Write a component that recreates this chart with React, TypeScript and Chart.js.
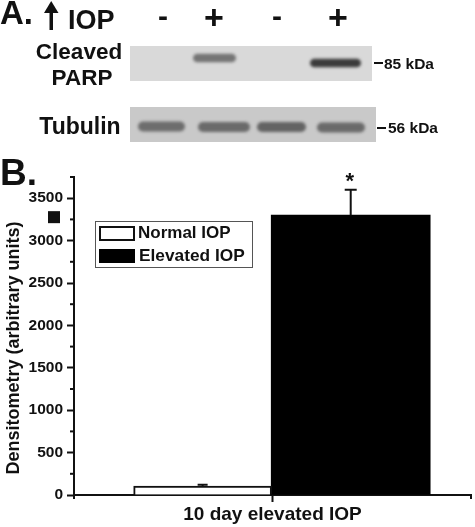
import React, { useEffect, useRef } from "react";
import { Chart, registerables } from "chart.js";

Chart.register(...registerables);

const categories = ["Normal IOP", "Elevated IOP"];
const meanValues = [106, 3300];
const errorTops = [122, 3600];
const yMajorStep = 500;
const yMinorStep = 250;
const yMax = 3750;
const xTickLabel = "10 day elevated IOP";
const yTitle = "Densitometry (arbitrary units)";
const iopLabels = ["-", "+", "-", "+"];
const parpBandStrength = [0, 0.52, 0, 0.82];
const tubulinBandStrength = [0.52, 0.54, 0.58, 0.54];

const FONT = '"Liberation Sans", Arial, sans-serif';
const BAR_X = [0.648, 1.394];
const BAR_W = [138, 159];
const IOP_X = [163, 214, 277, 338];
const PARP_BANDS = [[0, 0, 0], [193, 236, 58], [0, 0, 0], [310, 361, 63]];
const TUB_BANDS = [[138, 185, 126.5], [198, 250, 127], [257, 306, 127], [317, 365, 127.5]];

function text(ctx: CanvasRenderingContext2D, s: string, x: number, y: number, size: number, align: CanvasTextAlign = "left", color = "#111") {
  ctx.font = `bold ${size}px ${FONT}`;
  ctx.textAlign = align;
  ctx.textBaseline = "alphabetic";
  ctx.fillStyle = color;
  ctx.fillText(s, x, y);
}

function blot(ctx: CanvasRenderingContext2D, x: number, y: number, w: number, h: number, bg: string, bands: number[][], strength: number[], bandH: number) {
  ctx.save();
  ctx.fillStyle = bg;
  ctx.fillRect(x, y, w, h);
  ctx.beginPath();
  ctx.rect(x, y, w, h);
  ctx.clip();
  (ctx as any).filter = "blur(1.6px)";
  bands.forEach((b, i) => {
    if (strength[i] <= 0) return;
    ctx.fillStyle = `rgba(25,25,25,${strength[i]})`;
    ctx.beginPath();
    (ctx as any).roundRect(b[0], b[2] - bandH / 2, b[1] - b[0], bandH, bandH / 2);
    ctx.fill();
  });
  ctx.restore();
}

const overlay = {
  id: "overlay",
  afterDraw(chart: any) {
    const ctx: CanvasRenderingContext2D = chart.ctx;
    const y = chart.scales.y;
    const x = chart.scales.x;
    const area = chart.chartArea;
    ctx.save();

    // minor y ticks and x end ticks
    ctx.strokeStyle = "#111";
    ctx.lineWidth = 2;
    for (let v = 0; v <= yMax; v += yMinorStep) {
      if (v % yMajorStep === 0) continue;
      const py = y.getPixelForValue(v);
      ctx.beginPath();
      ctx.moveTo(area.left - 4, py);
      ctx.lineTo(area.left, py);
      ctx.stroke();
    }
    [x.min, x.max].forEach((v: number) => {
      const px = x.getPixelForValue(v);
      ctx.beginPath();
      ctx.moveTo(px, area.bottom);
      ctx.lineTo(px, area.bottom + 4);
      ctx.stroke();
    });

    // error bars
    errorTops.forEach((top, i) => {
      const px = x.getPixelForValue(BAR_X[i]);
      const pTop = y.getPixelForValue(top);
      const pMean = y.getPixelForValue(meanValues[i]);
      const half = i === 0 ? 5 : 6;
      ctx.lineWidth = 2;
      ctx.beginPath();
      ctx.moveTo(px, pMean);
      ctx.lineTo(px, pTop);
      ctx.moveTo(px - half, pTop);
      ctx.lineTo(px + half, pTop);
      ctx.stroke();
    });
    text(ctx, "*", x.getPixelForValue(BAR_X[1]) - 1, y.getPixelForValue(errorTops[1]) - 2, 22, "center");

    // square marker beside the y axis
    ctx.fillStyle = "#111";
    ctx.fillRect(48, y.getPixelForValue(meanValues[1]) - 4, 12, 12);

    // y title
    ctx.save();
    ctx.translate(19, 348);
    ctx.rotate(-Math.PI / 2);
    text(ctx, yTitle, 0, 0, 18, "center");
    ctx.restore();

    // legend
    ctx.lineWidth = 1;
    ctx.strokeStyle = "#555";
    ctx.strokeRect(95.5, 221.5, 157, 46);
    ctx.lineWidth = 2;
    ctx.strokeStyle = "#111";
    ctx.strokeRect(100, 227, 34, 13);
    ctx.fillStyle = "#000";
    ctx.fillRect(99, 249, 36, 14);
    text(ctx, categories[0], 138, 238, 17);
    text(ctx, categories[1], 139, 261, 17.3);

    // panel A
    text(ctx, "A.", 0, 24, 33);
    text(ctx, "B.", 0, 185, 37);
    ctx.fillStyle = "#111";
    ctx.fillRect(49.5, 9, 3.5, 21);
    ctx.beginPath();
    ctx.moveTo(51.2, 1);
    ctx.lineTo(44, 13);
    ctx.lineTo(58.5, 13);
    ctx.closePath();
    ctx.fill();
    text(ctx, "IOP", 68, 29, 27);
    iopLabels.forEach((l, i) => {
      if (l === "-") text(ctx, l, IOP_X[i], 26, 30, "center");
      else text(ctx, l, IOP_X[i], 29, 34, "center");
    });
    text(ctx, "Cleaved", 79, 59, 22.5, "center");
    text(ctx, "PARP", 82, 85, 22.5, "center");
    text(ctx, "Tubulin", 80, 134, 23, "center");
    blot(ctx, 130, 46, 242, 35, "#d9d9d9", PARP_BANDS, parpBandStrength, 8.5);
    blot(ctx, 130, 107, 246, 35, "#c9c9c9", TUB_BANDS, tubulinBandStrength, 10);
    ctx.fillStyle = "#111";
    ctx.fillRect(374, 62, 9, 2);
    ctx.fillRect(377, 127, 9, 2);
    text(ctx, "85 kDa", 384, 69, 15.5);
    text(ctx, "56 kDa", 388, 133, 15.5);
    ctx.restore();
  },
};

export default function App() {
  const ref = useRef<HTMLCanvasElement | null>(null);
  useEffect(() => {
    if (!ref.current) return;
    const chart = new Chart(ref.current, {
      type: "bar",
      data: {
        datasets: categories.map((label, i) => ({
          label,
          data: [{ x: BAR_X[i], y: meanValues[i] }],
          backgroundColor: i === 0 ? "#ffffff" : "#000000",
          borderColor: "#111111",
          borderWidth: i === 0 ? 2 : 0,
          borderSkipped: "bottom",
          barThickness: BAR_W[i],
          grouped: false,
        })),
      } as any,
      options: {
        responsive: false,
        animation: false,
        layout: { padding: { top: 177, right: 4, left: 0, bottom: 0 } },
        plugins: { legend: { display: false }, tooltip: { enabled: false } },
        scales: {
          x: {
            type: "linear",
            offset: false,
            min: 0,
            max: 2,
            afterBuildTicks: (s: any) => {
              s.ticks = [{ value: s.min }, { value: 1 }, { value: s.max }];
            },
            afterFit: (s: any) => {
              s.height = 32;
            },
            grid: {
              offset: false,
              drawOnChartArea: false,
              tickLength: 7,
              tickWidth: 2,
              tickColor: (c: any) => (c.tick && c.tick.value === 1 ? "#111" : "transparent"),
            },
            border: { color: "#111", width: 2 },
            ticks: {
              autoSkip: false,
              maxRotation: 0,
              padding: 1,
              color: "#111",
              font: { family: FONT, size: 19, weight: "bold" },
              callback: (v: any) => (v === 1 ? xTickLabel : ""),
            },
          },
          y: {
            min: 0,
            max: yMax,
            afterFit: (s: any) => {
              s.width = 74;
            },
            grid: {
              drawOnChartArea: false,
              tickLength: 7,
              tickWidth: 2,
              tickColor: (c: any) => (c.tick && c.tick.value % yMajorStep === 0 ? "#111" : "transparent"),
            },
            border: { color: "#111", width: 2 },
            ticks: {
              stepSize: yMinorStep,
              autoSkip: false,
              padding: 4,
              color: "#111",
              font: { family: FONT, size: 15.5, weight: "bold" },
              callback: (v: any) => (Number(v) % yMajorStep === 0 && Number(v) <= 3500 ? String(v) : ""),
            },
          },
        },
      } as any,
      plugins: [overlay],
    });
    return () => chart.destroy();
  }, []);
  return (
    <div style={{ position: "absolute", left: 0, top: 0, width: 475, height: 527, background: "#fff" }}>
      <canvas ref={ref} width={475} height={527} style={{ display: "block", width: 475, height: 527, filter: "blur(0.35px)" }} />
    </div>
  );
}
